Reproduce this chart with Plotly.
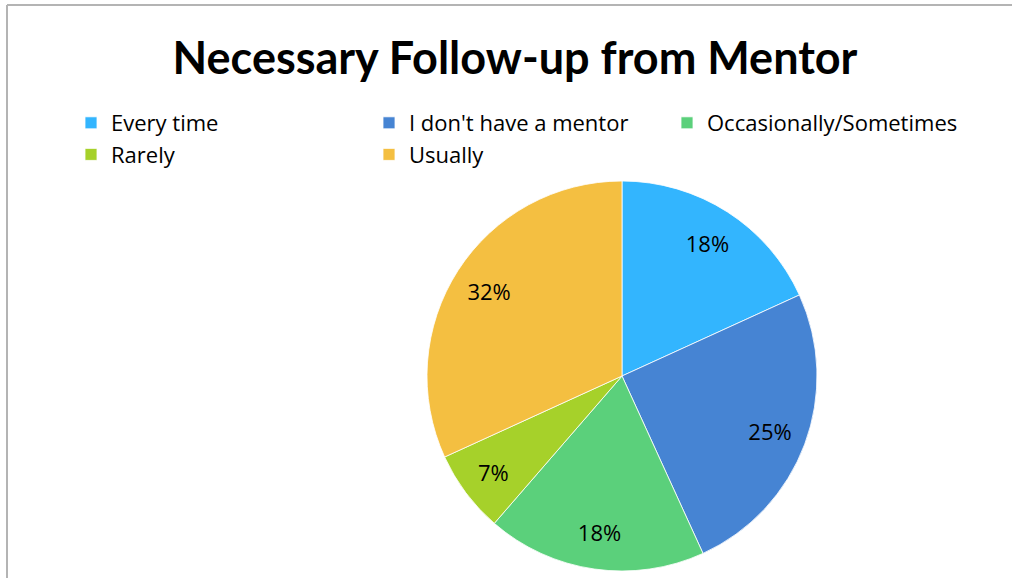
import plotly.graph_objects as go

categories = ["Every time", "I don't have a mentor", "Occasionally/Sometimes", "Rarely", "Usually"]
counts = [8, 11, 8, 3, 14]
colors = ["#33B5FE", "#4684D3", "#5BD07B", "#A6D12A", "#F4BF41"]

W, H = 1012, 578
TITLE_FONT = "Lato"
TEXT_FONT = "Open Sans"

pie_domain = dict(x=[427 / W, 817 / W], y=[7 / H, 397 / H])

# filled pie (no text)
fig = go.Figure(go.Pie(
    labels=categories,
    values=counts,
    sort=False,
    direction="clockwise",
    rotation=0,
    marker=dict(colors=colors, line=dict(color="white", width=0.8)),
    textinfo="none",
    domain=pie_domain,
    hoverinfo="label+percent",
))

# transparent ring carrying the percentage labels further out
fig.add_trace(go.Pie(
    labels=categories,
    values=counts,
    sort=False,
    direction="clockwise",
    rotation=0,
    hole=0.62,
    marker=dict(colors=["rgba(0,0,0,0)"] * len(categories), line=dict(width=0)),
    texttemplate="%{percent:.0%}",
    textposition="inside",
    insidetextorientation="horizontal",
    textfont=dict(family=TEXT_FONT, size=22, color="black"),
    domain=pie_domain,
    showlegend=False,
    hoverinfo="skip",
))

fig.update_layout(
    width=W, height=H,
    margin=dict(l=0, r=0, t=0, b=0),
    paper_bgcolor="white",
    plot_bgcolor="white",
    font=dict(family=TEXT_FONT, color="black"),
    title=dict(
        text="<b>Necessary Follow-up from Mentor</b>",
        x=515 / W, xanchor="center",
        y=1 - 58 / H, yanchor="middle",
        font=dict(family=TITLE_FONT, size=45, color="black"),
    ),
    showlegend=True,
    legend=dict(
        orientation="h",
        x=71 / W, xanchor="left",
        y=1 - 102 / H, yanchor="top",
        font=dict(family=TEXT_FONT, size=22, color="black"),
        entrywidth=253,
        entrywidthmode="pixels",
        traceorder="normal",
        itemclick=False,
        bgcolor="rgba(0,0,0,0)",
    ),
    shapes=[
        dict(type="line", xref="paper", yref="paper",
             x0=7 / W, x1=1.0, y0=1 - 5 / H, y1=1 - 5 / H,
             line=dict(color="#B4B4B4", width=2)),
        dict(type="line", xref="paper", yref="paper",
             x0=7 / W, x1=7 / W, y0=0, y1=1 - 5 / H,
             line=dict(color="#B4B4B4", width=2)),
    ],
)

fig.write_html(
    "out.html",
    config={"displayModeBar": False},
    post_script="document.body.style.margin='0';document.body.style.overflow='hidden';",
)
